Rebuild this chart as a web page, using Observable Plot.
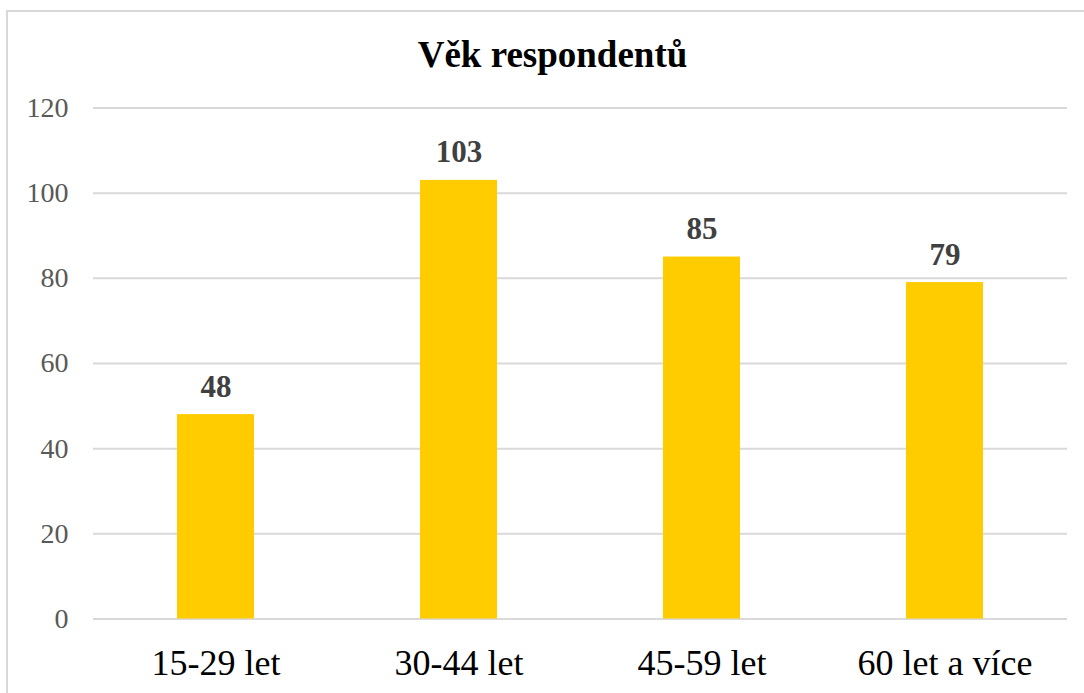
<!DOCTYPE html>
<html>
<head>
<meta charset="utf-8">
<script src="https://cdn.jsdelivr.net/npm/d3@7"></script>
<script src="https://cdn.jsdelivr.net/npm/@observablehq/plot@0.6"></script>
<style>
  html, body { margin: 0; padding: 0; background: #fff; }
  body { width: 1084px; height: 693px; overflow: hidden; position: relative; font-family: "Liberation Serif", "Times New Roman", serif; }
  #frame { position: absolute; left: 6px; top: 10px; width: 1100px; height: 720px; border: 2px solid #d9d9d9; box-sizing: border-box; pointer-events: none; }
  #title { position: absolute; left: 7px; width: 1091px; top: 35px; height: 40px; line-height: 40px; text-align: center; font-weight: bold; font-size: 37px; color: #000; }
  #chart { position: absolute; left: 0; top: 75px; }
</style>
</head>
<body>
<div id="frame"></div>
<div id="title">Věk respondentů</div>
<div id="chart"></div>
<script>
const categories = ["15-29 let", "30-44 let", "45-59 let", "60 let a více"];
const values = [48, 103, 85, 79];
const yTicks = [0, 20, 40, 60, 80, 100, 120];

const data = categories.map((c, i) => ({category: c, value: values[i]}));

const chart = Plot.plot({
  width: 1084,
  height: 618,
  marginTop: 32.5,
  marginBottom: 74.5,
  marginLeft: 93,
  marginRight: 17,
  style: {fontFamily: '"Liberation Serif", "Times New Roman", serif', background: "transparent", overflow: "visible"},
  x: {domain: categories, paddingInner: 0.684, paddingOuter: 0.342, label: null},
  y: {domain: [0, 120], label: null},
  marks: [
    Plot.ruleY(yTicks, {stroke: "#d9d9d9", strokeWidth: 2}),
    Plot.barY(data, {x: "category", y: "value", fill: "#FFCC00"}),
    Plot.text(data, {x: "category", y: "value", text: d => String(d.value), lineAnchor: "bottom", dy: -18, fontSize: 31, fontWeight: "bold", fill: "#404040"}),
    Plot.axisY({ticks: yTicks, tickSize: 0, tickPadding: 25, fontSize: 28, color: "#595959", label: null}),
    Plot.axisX({tickSize: 0, tickPadding: 30, fontSize: 36, color: "#000", label: null})
  ]
});
document.getElementById("chart").appendChild(chart);
</script>
</body>
</html>
